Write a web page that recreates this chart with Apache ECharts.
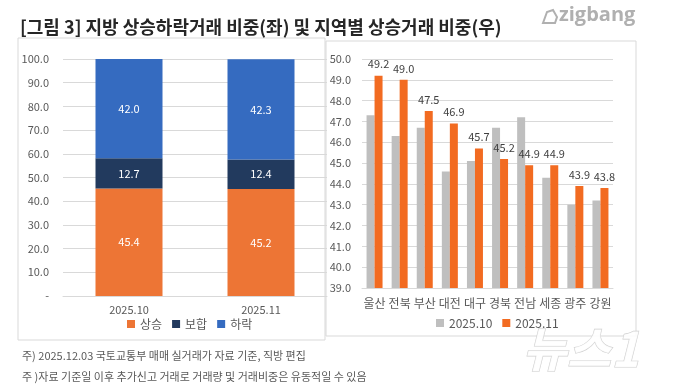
<!DOCTYPE html>
<html><head><meta charset="utf-8">
<script src="https://cdn.jsdelivr.net/npm/echarts@6/dist/echarts.min.js"></script>
<style>html,body{margin:0;padding:0;background:#fff}#c{width:673px;height:387px}</style>
</head><body><div id="c"></div>
<script>
const months = ['2025.10', '2025.11'];
const rise = [45.4, 45.2];
const flat = [12.7, 12.4];
const fall = [42.0, 42.3];
const regions = ['울산', '전북', '부산', '대전', '대구', '경북', '전남', '세종', '광주', '강원'];
const oct = [47.3, 46.3, 46.7, 44.6, 45.1, 46.7, 47.2, 44.3, 43.0, 43.2];
const nov = [49.2, 49.0, 47.5, 46.9, 45.7, 45.2, 44.9, 44.9, 43.9, 43.8];

const F = '"Noto Sans CJK KR", "Noto Sans", sans-serif';
const chart = echarts.init(document.getElementById('c'));
const lbl = {color: '#595959', fontSize: 11, fontFamily: F};
chart.setOption({
  animation: false,
  textStyle: {fontFamily: F},
  title: {text: '[그림 3] 지방 상승하락거래 비중(좌) 및 지역별 상승거래 비중(우)', left: 15, top: 13,
    textStyle: {fontSize: 18, fontWeight: 'bold', color: '#262626', fontFamily: F}},
  graphic: [
    {type: 'rect', shape: {x: 18, y: 38, width: 307, height: 302}, style: {fill: 'none', stroke: '#d9d9d9', lineWidth: 1}},
    {type: 'rect', shape: {x: 326, y: 41, width: 310, height: 295}, style: {fill: 'none', stroke: '#d9d9d9', lineWidth: 1}},
    {type: 'text', left: 559, top: 5, style: {text: 'zigbang', fontSize: 20, fontWeight: 'bold', fill: '#b0b0b0', fontFamily: '"Open Sans", sans-serif'}},
    {type: 'polygon', shape: {points: [[543, 23], [547, 12], [553, 10], [557, 17], [555, 23]]}, style: {fill: 'none', stroke: '#b0b0b0', lineWidth: 2}},
    {type: 'text', left: 22, top: 350, style: {text: '주) 2025.12.03 국토교통부 매매 실거래가 자료 기준, 직방 편집', fontSize: 11, fill: '#595959', fontFamily: F}},
    {type: 'text', left: 22, top: 371, style: {text: '주 )자료 기준일 이후 추가신고 거래로 거래량 및 거래비중은 유동적일 수 있음', fontSize: 11, fill: '#595959', fontFamily: F}},
    {type: 'text', left: 522, top: 324, style: {text: '뉴스1', fontSize: 48, fontStyle: 'italic', fontWeight: 'bold', fill: 'rgba(255,255,255,0.9)', stroke: '#cfcfcf', lineWidth: 1.2, fontFamily: F}}
  ],
  legend: [
    {data: ['상승', '보합', '하락'], left: 122, top: 313, itemWidth: 8, itemHeight: 8, itemGap: 10,
      textStyle: {color: '#595959', fontSize: 12, fontFamily: F}, icon: 'rect'},
    {data: ['2025.10', '2025.11'], left: 431, top: 312, itemWidth: 8, itemHeight: 8, itemGap: 10,
      textStyle: {color: '#595959', fontSize: 12, fontFamily: F}, icon: 'rect'}
  ],
  grid: [
    {left: 63, right: 346, top: 59, bottom: 91},
    {left: 362, right: 60, top: 59, bottom: 99}
  ],
  xAxis: [
    {type: 'category', gridIndex: 0, data: months, axisTick: {show: false},
      axisLine: {lineStyle: {color: '#d9d9d9'}}, axisLabel: Object.assign({margin: 8}, lbl)},
    {type: 'category', gridIndex: 1, data: regions, axisTick: {show: false},
      axisLine: {lineStyle: {color: '#d9d9d9'}}, axisLabel: Object.assign({}, lbl, {margin: 9, interval: 0, fontSize: 12})}
  ],
  yAxis: [
    {type: 'value', gridIndex: 0, min: 0, max: 100, interval: 10,
      axisLine: {show: false}, axisTick: {show: false}, splitLine: {lineStyle: {color: '#d9d9d9'}},
      axisLabel: Object.assign({margin: 14, formatter: v => v === 0 ? '-' : v.toFixed(1)}, lbl)},
    {type: 'value', gridIndex: 1, min: 39, max: 50, interval: 1,
      axisLine: {show: false}, axisTick: {show: false}, splitLine: {lineStyle: {color: '#d9d9d9'}},
      axisLabel: Object.assign({margin: 11, formatter: v => v.toFixed(1)}, lbl)}
  ],
  series: [
    {name: '상승', type: 'bar', stack: 's', xAxisIndex: 0, yAxisIndex: 0, data: rise, barWidth: 67,
      itemStyle: {color: '#ED7535'}, label: {show: true, color: '#fff', fontSize: 11, formatter: p => p.value.toFixed(1)}},
    {name: '보합', type: 'bar', stack: 's', xAxisIndex: 0, yAxisIndex: 0, data: flat, barWidth: 67,
      itemStyle: {color: '#223A5E'}, label: {show: true, color: '#fff', fontSize: 11, formatter: p => p.value.toFixed(1)}},
    {name: '하락', type: 'bar', stack: 's', xAxisIndex: 0, yAxisIndex: 0, data: fall, barWidth: 67,
      itemStyle: {color: '#356BC0'}, label: {show: true, color: '#fff', fontSize: 11, formatter: p => p.value.toFixed(1)}},
    {name: '2025.10', type: 'bar', xAxisIndex: 1, yAxisIndex: 1, data: oct, barWidth: 8, barGap: '0%',
      itemStyle: {color: '#BFBFBF'}},
    {name: '2025.11', type: 'bar', xAxisIndex: 1, yAxisIndex: 1, data: nov, barWidth: 8, barGap: '0%',
      itemStyle: {color: '#F26B21'}, label: {show: true, position: 'top', distance: 6, color: '#404040', fontSize: 11, formatter: p => p.value.toFixed(1)}}
  ]
});
</script></body></html>
